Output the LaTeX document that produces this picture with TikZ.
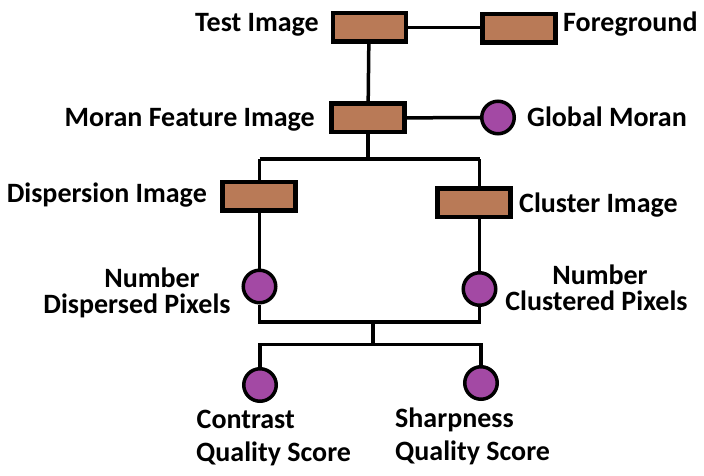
\documentclass[tikz,border=0pt]{standalone}
\usepackage{fontspec}
\setmainfont{Carlito}
\definecolor{boxbrown}{HTML}{B97A57}
\definecolor{dotpurple}{HTML}{A349A4}
\pgfdeclarelayer{bg}
\pgfsetlayers{bg,main}
\tikzset{
  box/.style={draw, line width=4.5pt, fill=boxbrown, minimum width=73pt, minimum height=28.5pt, inner sep=0pt},
  dot/.style={draw, circle, line width=3.5pt, fill=dotpurple, minimum size=32.5pt, inner sep=0pt},
  lbl/.style={inner sep=0pt, font=\bfseries\fontsize{28}{24}\selectfont},
  wire/.style={line width=3.5pt, line join=miter}
}
\begin{document}
\begin{tikzpicture}[x=1pt, y=-1pt]
\useasboundingbox (0,0) rectangle (704,476);
% shapes
\node[box] (test)  at (369.5,27.5) {};
\node[box] (fg)    at (519,28.5) {};
\node[box] (moran) at (368,118) {};
\node[dot] (gm)    at (498,117.5) {};
\node[box] (disp)  at (259,196) {};
\node[box] (clus)  at (474,202.5) {};
\node[dot] (ndp)   at (259.5,286.5) {};
\node[dot] (ncp)   at (479.5,289) {};
\node[dot] (cqs)   at (260,385) {};
\node[dot] (sqs)   at (481,383) {};
% junctions
\coordinate (jl) at (259.5,159);
\coordinate (jr) at (479.5,159);
\coordinate (kl) at (259.5,322);
\coordinate (kr) at (479.5,322);
\coordinate (km) at (373,322);
\coordinate (lm) at (373,344.5);
\coordinate (ll) at (260,344.5);
\coordinate (lr) at (481,344.5);
% labels
\node[lbl, anchor=base east] (tl) at (319,32) {Test Image};
\node[lbl, anchor=base west] (fl) at (563,32) {Foreground};
\node[lbl, anchor=base east] (ml) at (315,127) {Moran Feature Image};
\node[lbl, anchor=base west] (gl) at (527,127) {Global Moran};
\node[lbl, anchor=base east] (dl) at (207,202) {Dispersion Image};
\node[lbl, anchor=base west] (cl) at (519,212) {Cluster Image};
\node[lbl, anchor=base] (ndp1) at (152,287) {Number};
\node[lbl, anchor=base] (ndp2) at (137,313) {Dispersed Pixels};
\node[lbl, anchor=base] (ncp1) at (600,284) {Number};
\node[lbl, anchor=base] (ncp2) at (596.5,310) {Clustered Pixels};
\node[lbl, anchor=base west] (cq1) at (196.5,428) {Contrast};
\node[lbl, anchor=base west] (cq2) at (196,461) {Quality Score};
\node[lbl, anchor=base west] (sq1) at (395,427) {Sharpness};
\node[lbl, anchor=base west] (sq2) at (395,460) {Quality Score};
% connectors
\begin{pgfonlayer}{bg}
\fill[white] (0,0) rectangle (704,476);
\draw[wire] (test) -- (test -| fg);
\draw[wire] (test.center -| moran.north) ++(1,0) -- (moran);
\draw[wire] (moran) -- (gm);
\draw[wire] (moran) -- (moran |- jl);
\draw[wire] (jl) -- (jr);
\draw[wire] (jl) -- (ndp);
\draw[wire] (jr) -- (ncp);
\draw[wire] (ndp) -- (kl) -- (kr) -- (ncp);
\draw[wire] (km) -- (lm);
\draw[wire] (cqs) -- (ll) -- (lr) -- (sqs);
\end{pgfonlayer}
\end{tikzpicture}
\end{document}
